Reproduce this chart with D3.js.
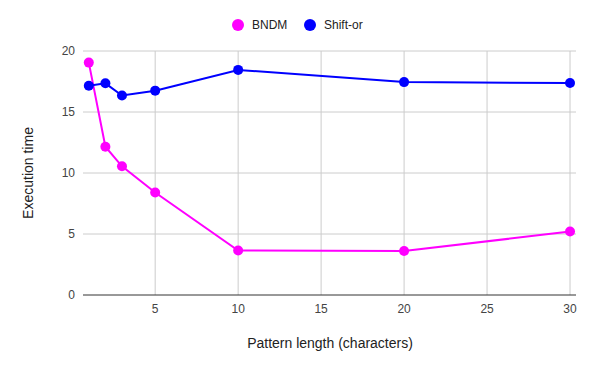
<!DOCTYPE html>
<html>
<head>
<meta charset="utf-8">
<script src="https://cdn.jsdelivr.net/npm/d3@7"></script>
<style>
  body { margin: 0; background: #fff; }
  text { font-family: Arial, "Liberation Sans", sans-serif; }
</style>
</head>
<body>
<svg width="595" height="371"></svg>
<script>
var patternLength = [1, 2, 3, 5, 10, 20, 30];
var bndm = [19.05, 12.15, 10.55, 8.4, 3.65, 3.6, 5.2];
var shiftOr = [17.15, 17.35, 16.35, 16.75, 18.45, 17.45, 17.38];
var seriesNames = ["BNDM", "Shift-or"];
var colors = ["#ff00ff", "#0000ff"];
var xTicks = [5, 10, 15, 20, 25, 30];
var yTicks = [0, 5, 10, 15, 20];

var svg = d3.select("svg");
var plotLeft = 83, plotRight = 576, plotTop = 51, plotBottom = 295;

var x = d3.scaleLinear().domain([0.65, 30.36]).range([plotLeft, plotRight]);
var y = d3.scaleLinear().domain([0, 20]).range([plotBottom, plotTop]);

// grid
svg.append("g").selectAll("line")
   .data(yTicks.filter(function(d){ return d > 0; }))
   .enter().append("line")
   .attr("x1", plotLeft).attr("x2", plotRight)
   .attr("y1", function(d){ return y(d); })
   .attr("y2", function(d){ return y(d); })
   .attr("stroke", "#cccccc").attr("stroke-width", 1);
svg.append("g").selectAll("line")
   .data(xTicks)
   .enter().append("line")
   .attr("x1", function(d){ return x(d); })
   .attr("x2", function(d){ return x(d); })
   .attr("y1", plotTop).attr("y2", plotBottom)
   .attr("stroke", "#cccccc").attr("stroke-width", 1);

// baseline
svg.append("line")
   .attr("x1", plotLeft).attr("x2", plotRight)
   .attr("y1", y(0)).attr("y2", y(0))
   .attr("stroke", "#333333").attr("stroke-width", 1);

// tick labels
svg.append("g").selectAll("text")
   .data(yTicks).enter().append("text")
   .attr("x", 75).attr("y", function(d){ return y(d); })
   .attr("dy", "0.35em")
   .attr("text-anchor", "end")
   .attr("font-size", 12).attr("fill", "#444444")
   .text(function(d){ return d; });
svg.append("g").selectAll("text")
   .data(xTicks).enter().append("text")
   .attr("x", function(d){ return x(d); }).attr("y", 313)
   .attr("text-anchor", "middle")
   .attr("font-size", 12).attr("fill", "#444444")
   .text(function(d){ return d; });

// axis titles
svg.append("text")
   .attr("x", 330).attr("y", 348)
   .attr("text-anchor", "middle")
   .attr("font-size", 14).attr("fill", "#222222")
   .text("Pattern length (characters)");
svg.append("text")
   .attr("transform", "translate(33," + ((plotTop + plotBottom) / 2) + ") rotate(-90)")
   .attr("text-anchor", "middle")
   .attr("font-size", 14).attr("fill", "#222222")
   .text("Execution time");

// series
var series = [bndm, shiftOr];
var line = d3.line()
   .x(function(d, i){ return x(patternLength[i]); })
   .y(function(d){ return y(d); });

series.forEach(function(vals, s) {
  var g = svg.append("g");
  g.append("path")
   .attr("d", line(vals))
   .attr("fill", "none")
   .attr("stroke", colors[s])
   .attr("stroke-width", 2);
  g.selectAll("circle")
   .data(vals).enter().append("circle")
   .attr("cx", function(d, i){ return x(patternLength[i]); })
   .attr("cy", function(d){ return y(d); })
   .attr("r", 5)
   .attr("fill", colors[s]);
});

// legend
var legendX = [238, 310];
var legendG = svg.selectAll(".legend")
   .data(seriesNames).enter().append("g")
   .attr("class", "legend")
   .attr("transform", function(d, i){ return "translate(" + legendX[i] + ",25)"; });
legendG.append("circle")
   .attr("r", 6)
   .attr("fill", function(d, i){ return colors[i]; });
legendG.append("text")
   .attr("x", 14).attr("dy", "0.35em")
   .attr("font-size", 12).attr("fill", "#222222")
   .text(function(d){ return d; });
</script>
</body>
</html>
